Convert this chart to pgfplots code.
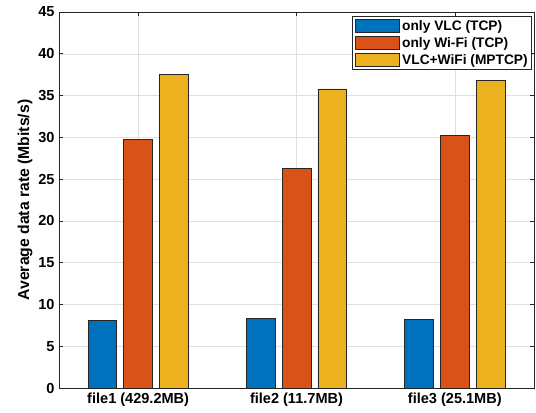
\documentclass[border=0pt]{standalone}
\usepackage{pgfplots}
\pgfplotsset{compat=1.18}
\usepackage{fontspec}
\setmainfont{Liberation Sans}
\definecolor{mblue}{rgb}{0,0.447,0.741}
\definecolor{mred}{rgb}{0.85,0.325,0.098}
\definecolor{myellow}{rgb}{0.929,0.694,0.125}
\definecolor{axgray}{rgb}{0.15,0.15,0.15}
\definecolor{gridgray}{rgb}{0.875,0.875,0.875}
\begin{document}
\begin{tikzpicture}
\begin{axis}[
  name=ax,
  scale only axis,
  width=475bp, height=376bp,
  xmin=0.5, xmax=3.5, ymin=0, ymax=45,
  xtick={1,2,3},
  xticklabels={file1 (429.2MB),file2 (11.7MB),file3 (25.1MB)},
  ytick={0,5,...,45},
  ybar=7bp, bar width=28.7bp,
  grid=major,
  grid style={gridgray, line width=0.5pt},
  axis line style={axgray, line width=0.6pt},
  tick style={axgray, line width=0.6pt},
  major tick length=4bp,
  tick align=inside,
  font=\fontsize{14.6}{16}\selectfont\bfseries,
  ticklabel style={font=\fontsize{14.6}{16}\selectfont\bfseries},
  yticklabel style={xshift=-1bp},
  xticklabel style={yshift=-1bp},
  /pgf/number format/assume math mode=true,
  ylabel={Average data rate (Mbits/s)},
  ylabel style={font=\fontsize{15.8}{17}\selectfont\bfseries, yshift=-1bp},
  legend style={at={(rel axis cs:1,1)}, anchor=north east, xshift=-2bp, yshift=-4bp,
    draw=axgray, line width=0.6pt, font=\fontsize{13.8}{15}\selectfont\bfseries,
    row sep=1.5bp, inner xsep=2bp, inner ysep=2bp, cells={anchor=west}},
  legend image code/.code={\draw[#1, line width=0.6pt] (0bp,-6.75bp) rectangle (44bp,6.75bp);},
  legend cell align=left,
  every axis plot/.append style={draw=black!85, line width=0.7pt},
]
\addplot[fill=mblue] coordinates {(1,8.1) (2,8.3) (3,8.2)};
\addplot[fill=mred] coordinates {(1,29.8) (2,26.3) (3,30.2)};
\addplot[fill=myellow] coordinates {(1,37.5) (2,35.8) (3,36.8)};
\legend{\hspace{1bp}only VLC (TCP),\hspace{1bp}only Wi-Fi (TCP),\hspace{1bp}VLC+WiFi (MPTCP)}
\end{axis}
\pgfresetboundingbox
\path[use as bounding box] ([xshift=-59bp,yshift=-25bp]ax.south west) rectangle ([xshift=2bp,yshift=12bp]ax.north east);
\end{tikzpicture}
\end{document}
